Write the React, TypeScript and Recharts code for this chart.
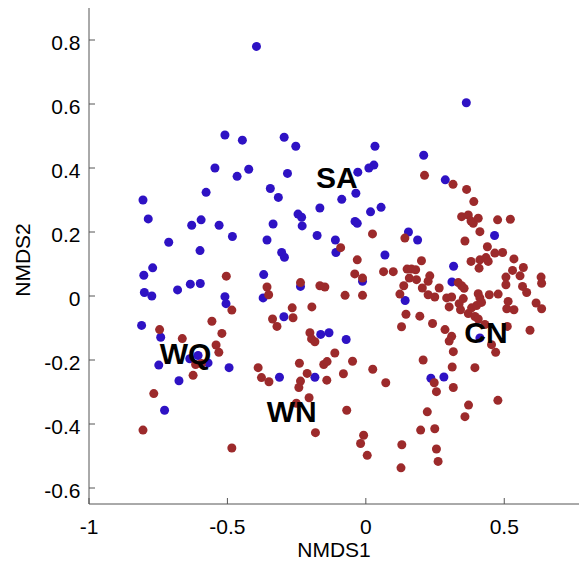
import { Scatter, ScatterChart, XAxis, YAxis, Label } from "recharts";

// NMDS1, NMDS2 scores per site
const blueSites: [number, number][] = [
  [-0.395, 0.78], [-0.509, 0.503], [-0.446, 0.487], [-0.545, 0.4], [-0.465, 0.374],
  [-0.423, 0.396], [-0.295, 0.496], [-0.253, 0.468], [-0.283, 0.383], [0.033, 0.468],
  [0.029, 0.409], [0.011, 0.4], [-0.029, 0.387], [0.363, 0.604], [0.209, 0.44],
  [0.287, 0.363], [-0.805, 0.3], [-0.577, 0.324], [-0.786, 0.241], [-0.629, 0.221],
  [-0.595, 0.238], [-0.53, 0.221], [-0.482, 0.186], [-0.712, 0.168], [-0.599, 0.142],
  [-0.77, 0.088], [-0.802, 0.065], [-0.634, 0.037], [-0.598, 0.039], [-0.68, 0.019],
  [-0.8, 0.011], [-0.773, 0.0], [-0.509, -0.002], [-0.505, -0.024], [-0.81, -0.092],
  [-0.741, -0.129], [-0.606, -0.186], [-0.636, -0.196], [-0.57, -0.209], [-0.748, -0.216],
  [-0.494, -0.224], [-0.675, -0.265], [-0.727, -0.357], [-0.345, 0.336], [-0.316, 0.308],
  [-0.166, 0.275], [-0.087, 0.302], [-0.036, 0.321], [0.017, 0.263], [0.055, 0.277],
  [-0.245, 0.256], [-0.232, 0.246], [-0.23, 0.219], [-0.335, 0.225], [-0.039, 0.233],
  [-0.031, 0.227], [-0.357, 0.175], [-0.176, 0.189], [-0.11, 0.175], [0.154, 0.2],
  [0.187, 0.175], [-0.304, 0.136], [-0.294, 0.121], [-0.108, 0.136], [0.069, 0.128],
  [-0.369, 0.067], [-0.012, 0.046], [0.142, -0.014], [-0.236, 0.03], [-0.371, -0.006],
  [-0.296, -0.065], [-0.163, -0.12], [-0.133, -0.115], [-0.071, -0.136], [-0.312, -0.254],
  [-0.184, -0.254], [0.235, -0.257], [0.282, -0.253], [0.465, 0.189], [0.317, 0.093],
  [0.311, 0.044], [0.412, -0.131],
];

const redSites: [number, number][] = [
  [0.212, 0.377], [0.315, 0.349], [-0.504, 0.062], [-0.484, -0.044], [-0.745, -0.105],
  [-0.556, -0.079], [-0.52, -0.117], [-0.663, -0.133], [-0.541, -0.153], [-0.531, -0.176],
  [-0.615, -0.214], [-0.594, -0.211], [-0.624, -0.248], [-0.766, -0.305], [-0.805, -0.419],
  [-0.484, -0.475], [0.024, 0.194], [0.141, 0.181], [-0.091, 0.151], [-0.031, 0.113],
  [-0.04, 0.069], [-0.012, 0.056], [0.064, 0.076], [0.099, 0.076], [0.149, 0.084],
  [0.165, 0.084], [0.18, 0.082], [0.157, 0.056], [0.183, 0.051], [0.201, 0.11],
  [0.137, 0.032], [0.123, 0.006], [0.145, -0.057], [0.129, -0.096], [-0.236, 0.042],
  [-0.166, 0.032], [-0.148, 0.028], [-0.357, 0.028], [-0.351, 0.004], [-0.075, 0.002],
  [-0.012, 0.002], [-0.266, -0.037], [-0.195, -0.034], [-0.263, -0.068], [-0.337, -0.072],
  [-0.321, -0.095], [-0.202, -0.115], [-0.196, -0.134], [-0.184, -0.143], [-0.112, -0.178],
  [-0.389, -0.224], [-0.377, -0.255], [-0.35, -0.268], [-0.24, -0.21], [-0.212, -0.242],
  [-0.236, -0.266], [-0.242, -0.286], [-0.205, -0.318], [-0.251, -0.335], [-0.152, -0.214],
  [-0.14, -0.205], [-0.141, -0.263], [-0.081, -0.243], [-0.048, -0.204], [0.025, -0.229],
  [0.072, -0.271], [-0.069, -0.357], [-0.182, -0.427], [-0.008, -0.435], [-0.019, -0.461],
  [0.005, -0.498], [0.13, -0.465], [0.127, -0.537], [0.207, -0.2], [0.316, -0.174],
  [0.312, -0.222], [0.394, -0.224], [0.247, -0.271], [0.255, -0.299], [0.316, -0.286],
  [0.477, -0.326], [0.371, -0.341], [0.358, -0.377], [0.222, -0.362], [0.198, -0.419],
  [0.249, -0.415], [0.255, -0.478], [0.261, -0.517], [0.454, -0.152], [0.469, -0.176],
  [0.364, 0.333], [0.39, 0.295], [0.346, 0.248], [0.37, 0.253], [0.38, 0.234],
  [0.388, 0.227], [0.406, 0.243], [0.476, 0.238], [0.522, 0.24], [0.412, 0.201],
  [0.358, 0.172], [0.439, 0.154], [0.466, 0.134], [0.494, 0.136], [0.535, 0.116],
  [0.38, 0.108], [0.412, 0.113], [0.434, 0.12], [0.442, 0.108], [0.409, 0.087],
  [0.569, 0.089], [0.53, 0.08], [0.557, 0.063], [0.506, 0.059], [0.633, 0.059],
  [0.635, 0.04], [0.231, 0.063], [0.225, 0.046], [0.334, 0.042], [0.346, 0.032],
  [0.355, 0.024], [0.506, 0.035], [0.566, 0.03], [0.581, 0.011], [0.204, 0.025],
  [0.265, 0.025], [0.225, 0.004], [0.249, -0.003], [0.406, 0.007], [0.412, -0.006],
  [0.446, 0.004], [0.478, 0.006], [0.292, -0.006], [0.31, -0.003], [0.352, -0.008],
  [0.301, -0.034], [0.337, -0.024], [0.342, -0.043], [0.382, -0.037], [0.4, -0.03],
  [0.418, -0.02], [0.514, -0.017], [0.509, -0.04], [0.535, -0.043], [0.615, -0.022],
  [0.635, -0.04], [0.37, -0.055], [0.394, -0.064], [0.406, -0.072], [0.195, -0.063],
  [0.241, -0.086], [0.286, -0.105], [0.31, -0.126], [0.301, -0.141], [0.43, -0.089],
  [0.511, -0.095], [0.593, -0.107],
];

const groupNames = ["SA", "WQ", "WN", "CN"];
const groupNmds1 = [-0.105, -0.651, -0.268, 0.434];
const groupNmds2 = [0.369, -0.18, -0.36, -0.114];

const xTicks = [-1, -0.5, 0, 0.5];
const yTicks = [-0.6, -0.4, -0.2, 0, 0.2, 0.4, 0.6, 0.8];

const FONT = "'Liberation Sans', Arial, sans-serif";
const AXIS = "#555";

const toPoints = (arr: [number, number][]) => arr.map(([x, y]) => ({ x, y }));
const groupLabels = groupNames.map((name, i) => ({ x: groupNmds1[i], y: groupNmds2[i], name }));

const dot = (fill: string) => (props: any) => (
  <circle cx={props.cx} cy={props.cy} r={4.5} fill={fill} />
);

const XTick = (props: any) => {
  const { x, y, payload } = props;
  return (
    <g>
      <line x1={x} x2={x} y1={y} y2={y - 6} stroke={AXIS} />
      <text x={x} y={y + 29.5} textAnchor="middle" fontSize={21} fontFamily={FONT} fill="#000">
        {payload.value}
      </text>
    </g>
  );
};

const YTick = (props: any) => {
  const { x, y, payload } = props;
  return (
    <g>
      <line x1={x} x2={x + 6} y1={y} y2={y} stroke={AXIS} />
      <text x={x - 8.5} y={y + 9.5} textAnchor="end" fontSize={21} fontFamily={FONT} fill="#000">
        {payload.value}
      </text>
    </g>
  );
};

export default function App() {
  return (
    <div style={{ position: "absolute", left: 0, top: 0, background: "#fff" }}>
      <ScatterChart width={579} height={562} margin={{ top: 8, right: 0, bottom: 0, left: 0 }}>
        <XAxis
          type="number"
          dataKey="x"
          domain={[-1, 0.77]}
          ticks={xTicks}
          height={58}
          tickSize={0}
          tickMargin={0}
          tickLine={false}
          tick={XTick}
          axisLine={{ stroke: AXIS }}
          allowDataOverflow
        >
          <Label
            content={() => (
              <text x={334} y={556.5} textAnchor="middle" fontSize={21} fontFamily={FONT} fill="#000">
                NMDS1
              </text>
            )}
          />
        </XAxis>
        <YAxis
          type="number"
          dataKey="y"
          domain={[-0.65, 0.9]}
          ticks={yTicks}
          width={89}
          tickSize={0}
          tickMargin={0}
          tickLine={false}
          tick={YTick}
          axisLine={{ stroke: AXIS }}
          allowDataOverflow
        >
          <Label
            content={() => (
              <text
                x={30}
                y={260}
                textAnchor="middle"
                fontSize={21}
                fontFamily={FONT}
                fill="#000"
                transform="rotate(-90 30 260)"
              >
                NMDS2
              </text>
            )}
          />
        </YAxis>
        <Scatter data={toPoints(blueSites)} shape={dot("#2e12c4")} isAnimationActive={false} />
        <Scatter data={toPoints(redSites)} shape={dot("#9c2a2b")} isAnimationActive={false} />
        <Scatter
          data={groupLabels}
          isAnimationActive={false}
          shape={(props: any) => (
            <text
              x={props.cx}
              y={props.cy}
              textAnchor="middle"
              dominantBaseline="central"
              fontSize={30}
              fontWeight="bold"
              fontFamily={FONT}
              fill="#000"
            >
              {props.payload.name}
            </text>
          )}
        />
      </ScatterChart>
    </div>
  );
}
